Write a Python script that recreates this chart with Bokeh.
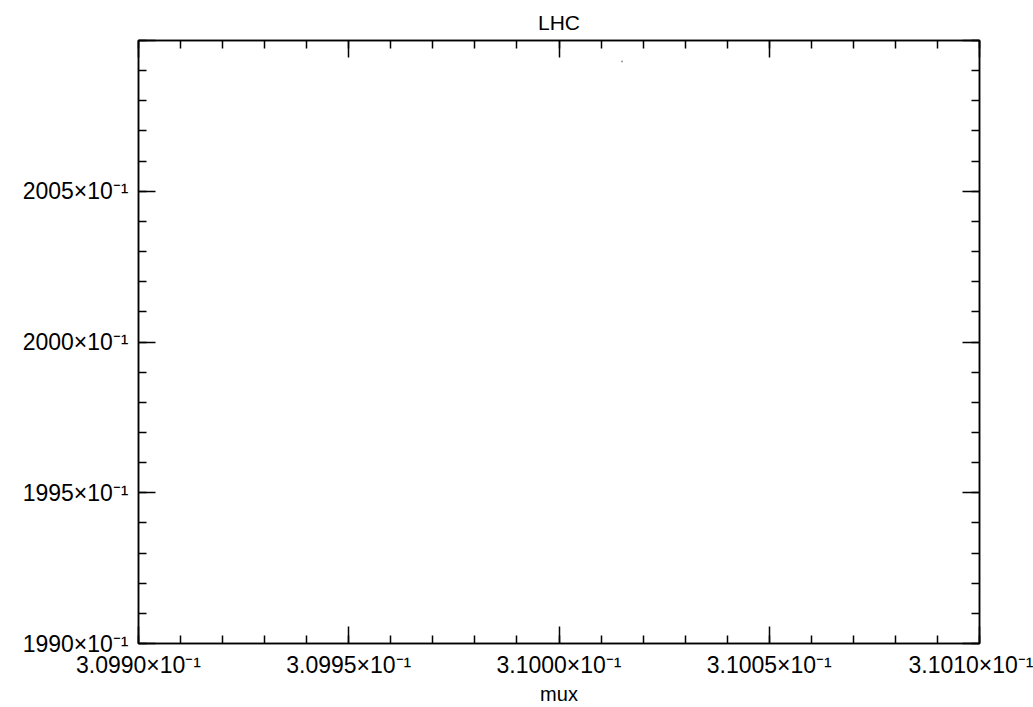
from bokeh.plotting import figure
from bokeh.models import FixedTicker, LinearAxis, Range1d
from bokeh.embed import file_html
from bokeh.resources import INLINE

# axis extents
x_start, x_end = 0.30990, 0.31010
y_start, y_end = 199.0, 201.0

# tick values and labels
x_ticks = [0.30990, 0.30995, 0.31000, 0.31005, 0.31010]
x_tick_labels = ["3.0990×10⁻¹", "3.0995×10⁻¹", "3.1000×10⁻¹", "3.1005×10⁻¹", "3.1010×10⁻¹"]
x_minor = [round(0.30990 + i * 0.00001, 5) for i in range(21)]
y_ticks = [199.0, 199.5, 200.0, 200.5, 201.0]
y_tick_labels = ["1990×10⁻¹", "1995×10⁻¹", "2000×10⁻¹", "2005×10⁻¹", ""]
y_minor = [round(199.0 + i * 0.1, 1) for i in range(21)]

# the single faint point seen in the frame
mux = [0.310015]
val = [200.93]

FONT = "Liberation Sans"

p = figure(width=1033, height=707, output_backend="svg", toolbar_location=None,
           x_range=Range1d(x_start, x_end), y_range=Range1d(y_start, y_end),
           title="LHC", x_axis_label="mux",
           min_border_left=138, min_border_right=54, min_border_top=40, min_border_bottom=63)
p.title.align = "center"
p.title.text_font = FONT
p.title.text_font_size = "21px"
p.title.text_font_style = "normal"
p.title.text_color = "black"
p.title.offset = 0
p.title.standoff = 13

p.grid.visible = False
p.outline_line_color = "black"
p.outline_line_width = 1.5
p.background_fill_color = "white"
p.border_fill_color = "white"

p.scatter(mux, val, size=2, color="#999999", line_color=None)

def style(ax, labels):
    ax.major_tick_in = 17
    ax.major_tick_out = 0
    ax.minor_tick_in = 8
    ax.minor_tick_out = 0
    ax.axis_line_color = "black"
    ax.axis_line_width = 1.5
    ax.major_tick_line_color = "black"
    ax.major_tick_line_width = 1.5
    ax.minor_tick_line_color = "black"
    ax.minor_tick_line_width = 1.5
    ax.major_label_text_font = FONT
    if labels:
        ax.major_label_text_color = "black"
        ax.major_label_text_font_size = "23px"
        ax.major_label_standoff = 8
    else:
        ax.major_label_text_color = None
        ax.major_label_text_font_size = "1px"
        ax.major_label_standoff = 0

xa = p.xaxis[0]
xa.ticker = FixedTicker(ticks=x_ticks, minor_ticks=x_minor)
xa.major_label_overrides = dict(zip(x_ticks, x_tick_labels))
style(xa, True)
xa.axis_label_text_font = FONT
xa.axis_label_text_font_size = "20px"
xa.axis_label_text_font_style = "normal"
xa.axis_label_text_color = "black"
xa.axis_label_standoff = 2

ya = p.yaxis[0]
ya.ticker = FixedTicker(ticks=y_ticks, minor_ticks=y_minor)
ya.major_label_overrides = dict(zip(y_ticks, y_tick_labels))
style(ya, True)
ya.major_label_standoff = 10

top = LinearAxis(ticker=FixedTicker(ticks=x_ticks, minor_ticks=x_minor))
style(top, False)
p.add_layout(top, "above")
right = LinearAxis(ticker=FixedTicker(ticks=y_ticks, minor_ticks=y_minor))
style(right, False)
p.add_layout(right, "right")

open("out.html", "w").write(file_html(p, INLINE))
